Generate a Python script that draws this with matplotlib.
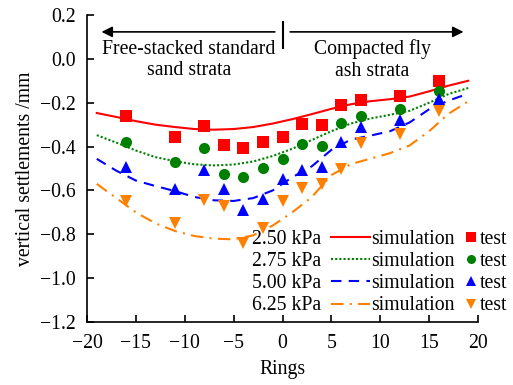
import matplotlib
matplotlib.use('Agg')
import matplotlib.pyplot as plt
from matplotlib.lines import Line2D

plt.rcParams['font.family'] = ['Liberation Serif', 'DejaVu Serif']
plt.rcParams['axes.unicode_minus'] = True

# donnees de test (anneaux)
anneaux_test = [-16, -11, -8, -6, -4, -2, 0, 2, 4, 6, 8, 12, 16]
test_250 = [-0.259, -0.356, -0.308, -0.395, -0.408, -0.377, -0.356, -0.295, -0.300, -0.209, -0.186, -0.168, -0.099]
test_275 = [-0.379, -0.470, -0.406, -0.526, -0.538, -0.499, -0.456, -0.388, -0.399, -0.292, -0.259, -0.227, -0.145]
test_500 = [-0.495, -0.595, -0.505, -0.595, -0.691, -0.641, -0.547, -0.508, -0.495, -0.379, -0.312, -0.280, -0.183]
test_625 = [-0.650, -0.750, -0.644, -0.671, -0.841, -0.770, -0.650, -0.589, -0.571, -0.501, -0.383, -0.341, -0.236]

# courbes de simulation
anneaux_sim = [-19, -17, -15, -13, -11, -9, -7, -5, -3, -1, 1, 3, 5, 7, 9, 11, 13, 15, 17, 19]
sim_250 = [-0.247, -0.265, -0.284, -0.300, -0.311, -0.320, -0.323, -0.320, -0.311, -0.295,
           -0.275, -0.252, -0.228, -0.207, -0.193, -0.184, -0.172, -0.148, -0.122, -0.100]
sim_275 = [-0.348, -0.382, -0.418, -0.448, -0.467, -0.481, -0.486, -0.482, -0.468, -0.443,
           -0.410, -0.370, -0.330, -0.295, -0.272, -0.255, -0.237, -0.200, -0.160, -0.133]
sim_500 = [-0.456, -0.510, -0.555, -0.580, -0.603, -0.630, -0.645, -0.648, -0.635, -0.600,
           -0.540, -0.490, -0.415, -0.368, -0.350, -0.330, -0.290, -0.230, -0.190, -0.159]
sim_625 = [-0.570, -0.635, -0.700, -0.750, -0.785, -0.808, -0.820, -0.823, -0.805, -0.760,
           -0.700, -0.630, -0.530, -0.480, -0.455, -0.430, -0.395, -0.330, -0.250, -0.194]

pressions = ['2.50 kPa', '2.75 kPa', '5.00 kPa', '6.25 kPa']
couleurs = ['#ff0000', '#008000', '#0000ff', '#ff8000']
styles = ['-', (0, (1, 1)), (0, (5, 3.5)), (0, (6, 3, 1, 3))]
marqueurs = ['s', 'o', '^', 'v']
tailles = [8, 8, 9, 9]

series_sim = [sim_250, sim_275, sim_500, sim_625]
series_test = [test_250, test_275, test_500, test_625]

taille_police = 14.2

fig = plt.figure(figsize=(5.13, 3.85), dpi=100)
ax = fig.add_axes([87 / 513, 1 - 322 / 385, 391 / 513, 307 / 385])

for i in range(4):
    ax.plot(anneaux_sim, series_sim[i], color=couleurs[i], linestyle=styles[i], linewidth=1.5)
    ax.plot(anneaux_test, series_test[i], linestyle='none', marker=marqueurs[i],
            color=couleurs[i], markersize=tailles[i], markeredgewidth=0)

ax.set_xlim(-20, 20)
ax.set_ylim(-1.2, 0.2)
ax.set_xticks(range(-20, 21, 5))
ax.set_yticks([0.2, 0.0, -0.2, -0.4, -0.6, -0.8, -1.0, -1.2])
ax.yaxis.set_major_formatter(matplotlib.ticker.FuncFormatter(lambda v, p: f"{v:.1f}".replace('-', '\u2212')))
ax.tick_params(direction='in', length=5, width=1.2, labelsize=taille_police)
ax.tick_params(axis='x', pad=9)
ax.tick_params(axis='y', pad=8)
ax.spines['top'].set_visible(False)
ax.spines['right'].set_visible(False)
ax.spines['left'].set_linewidth(1.2)
ax.spines['bottom'].set_linewidth(1.2)
ax.set_xlabel('Rings', fontsize=taille_police, labelpad=5)
ax.set_ylabel('vertical settlements /mm', fontsize=taille_police, labelpad=4)

# fleches des couches
ax.annotate('', xy=(-18.8, 0.123), xytext=(-0.5, 0.123),
            arrowprops=dict(arrowstyle='-|>', color='black', lw=1.2, mutation_scale=16))
ax.annotate('', xy=(18.8, 0.123), xytext=(0.5, 0.123),
            arrowprops=dict(arrowstyle='-|>', color='black', lw=1.2, mutation_scale=16))
ax.plot([0, 0], [0.05, 0.17], color='black', linewidth=1.5)
ax.text(-9.6, -0.005, 'Free-stacked standard\nsand strata', ha='center', va='center', fontsize=taille_police)
ax.text(9.2, -0.005, 'Compacted fly\nash strata', ha='center', va='center', fontsize=taille_police)

# legende en trois morceaux
haut_legende = 1 - 230 / 385
options = dict(loc='upper left', frameon=False, borderpad=0, borderaxespad=0,
               labelspacing=0.16, fontsize=taille_police)
poignees_vides = [Line2D([], [], linestyle='none') for _ in range(4)]
leg1 = fig.legend(poignees_vides, pressions, bbox_to_anchor=(252 / 513, haut_legende),
                  handlelength=0, handletextpad=0, **options)
poignees_lignes = [Line2D([], [], color=couleurs[i], linestyle=styles[i], linewidth=1.5) for i in range(4)]
leg2 = fig.legend(poignees_lignes, ['simulation'] * 4, bbox_to_anchor=(331 / 513, haut_legende),
                  handlelength=2.0, handletextpad=0.05, **options)
poignees_marq = [Line2D([], [], color=couleurs[i], marker=marqueurs[i], linestyle='none',
                        markersize=tailles[i] - 1.5, markeredgewidth=0) for i in range(4)]
leg3 = fig.legend(poignees_marq, ['test'] * 4, bbox_to_anchor=(465 / 513, haut_legende),
                  handlelength=0.6, handletextpad=0.15, **options)

fig.savefig('out.png', dpi=100)
